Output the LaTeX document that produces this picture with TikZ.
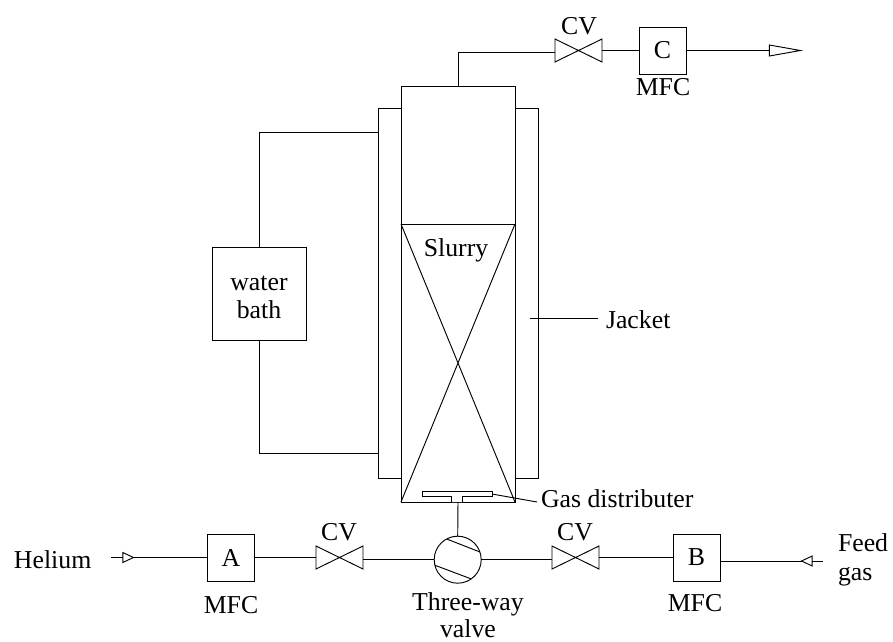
\documentclass[tikz,border=0pt]{standalone}
\usepackage{fontspec}
\setmainfont{Liberation Serif}
\usetikzlibrary{shapes.geometric, positioning, calc}
\tikzset{
  line/.style={line width=0.8pt},
  unit/.style={draw, line width=0.8pt, fill=white, inner sep=0pt, outer sep=0pt},
  mfcbox/.style={unit, minimum width=1.41cm, minimum height=1.41cm},
  valve/.style={inner sep=0pt, outer sep=0pt, minimum width=1.41cm, minimum height=0.69cm},
  tiptri/.style={isosceles triangle, isosceles triangle stretches, unit, minimum height=0.32cm, minimum width=0.3cm},
  label/.style={inner sep=0pt, outer sep=0pt, font=\fontsize{22}{23}\selectfont, align=center}
}
\begin{document}
\begin{tikzpicture}[x=0.03cm, y=-0.03cm]
  \useasboundingbox (0,0) rectangle (893,642);

  % Reactor
  \node[unit, minimum width=4.8cm, minimum height=11.1cm] (jacket) at (458,293) {};
  \node[unit, minimum width=3.42cm, minimum height=12.48cm] (column) at (458,294) {};
  \node[unit, minimum width=3.42cm, minimum height=8.34cm] (bed) at (458,363) {};
  \draw[line] (bed.north west) -- (bed.south east) (bed.north east) -- (bed.south west);
  \node[label, fill=white, inner sep=1pt] (slurry) at (456,250) {Slurry};

  % Gas distributer
  \coordinate (platetip) at (492,494);
  \draw[line, fill=white] (451,502) -- (451,496) -- (422,496) -- (422,491) -- (492,491) -- (492,496) -- (462,496) -- (462,502);
  \node[label, anchor=west] (distlabel) at (541,499) {Gas distributer};
  \draw[line] (platetip) -- (537,502);

  % Water bath
  \node[unit, minimum width=2.82cm, minimum height=2.79cm] (bath) at (259,293.5) {};
  \node[label] (bathlabel) at (259,297) {water\\[1pt]bath};
  \coordinate (jackettop) at (378,132);
  \coordinate (jacketbot) at (378,453);
  \draw[line] (bath.north) |- (jackettop);
  \draw[line] (bath.south) |- (jacketbot);

  % Jacket label
  \coordinate (jacketpt) at (530,318);
  \node[label, anchor=west] (jacketlabel) at (606,320) {Jacket};
  \draw[line] (jacketpt) -- (598,318);

  % Outlet line
  \node[valve] (cvC) at (578.5,50.5) {};
  \node[mfcbox] (mfcC) at (662.5,50.5) {};
  \node[label] (cvClabel) at (579,26) {CV};
  \node[label] at (mfcC) {C};
  \node[label] (mfcClabel) at (663,87) {MFC};
  \node[tiptri, minimum height=0.93cm, minimum width=0.33cm] (outtip) at (774,50.5) {};
  \coordinate (colout) at (458,86);
  \coordinate (cvCin) at (555,52);
  \draw[line] (colout) |- (cvCin);
  \draw[line] (cvC.east) -- (mfcC.west);
  \draw[line] (mfcC.east) -- (outtip.west);

  % Feed line
  \node[mfcbox] (mfcA) at (231,557.5) {};
  \node[mfcbox] (mfcB) at (696.5,557.5) {};
  \node[label] at (mfcA) {A};
  \node[label] at (mfcB) {B};
  \node[label] (mfcAlabel) at (231,605) {MFC};
  \node[label] (mfcBlabel) at (695,603) {MFC};
  \node[valve] (cvA) at (339.5,557.5) {};
  \node[valve] (cvB) at (575.5,557.5) {};
  \node[label] (cvAlabel) at (339,532) {CV};
  \node[label] (cvBlabel) at (575,532) {CV};
  \node[unit, circle, minimum size=1.41cm] (threeway) at (457.7,559.7) {};
  \draw[line] (446.7,539) -- (480,552) (435,565.3) -- (470.7,578.7);
  \node[label] (twlabel) at (468,615) {Three-way\\valve};
  \node[label, anchor=west] (helium) at (14,560) {Helium};
  \node[label, anchor=west, align=left] (feed) at (838,559.5) {Feed\\[2pt]gas};
  \foreach \v in {cvA,cvB,cvC}
    \draw[line] (\v.north west) -- (\v.south east) -- (\v.north east) -- (\v.south west) -- cycle;

  \coordinate (hestart) at (111,557.5);
  \coordinate (feedstart) at (823,561);
  \node[tiptri] (hetip) at (126,557.5) {};
  \node[tiptri, shape border rotate=180] (feedtip) at (809,561) {};
  \draw[line] (hestart) -- (hetip.west);
  \draw[line] (hetip.east) -- (mfcA.west);
  \draw[line] (mfcA.east) -- (cvA.west);
  \draw[line] (cvA.east |- threeway.west) -- (threeway.west);
  \draw[line] (threeway.east) -- (cvB.west |- threeway.east);
  \draw[line] (cvB.east) -- (mfcB.west);
  \draw[line] (feedstart) -- (feedtip.east);
  \draw[line] (feedtip.west) -- (mfcB.east |- feedtip.west);
  \draw[line] (threeway.north) -- (column.south);
\end{tikzpicture}
\end{document}
